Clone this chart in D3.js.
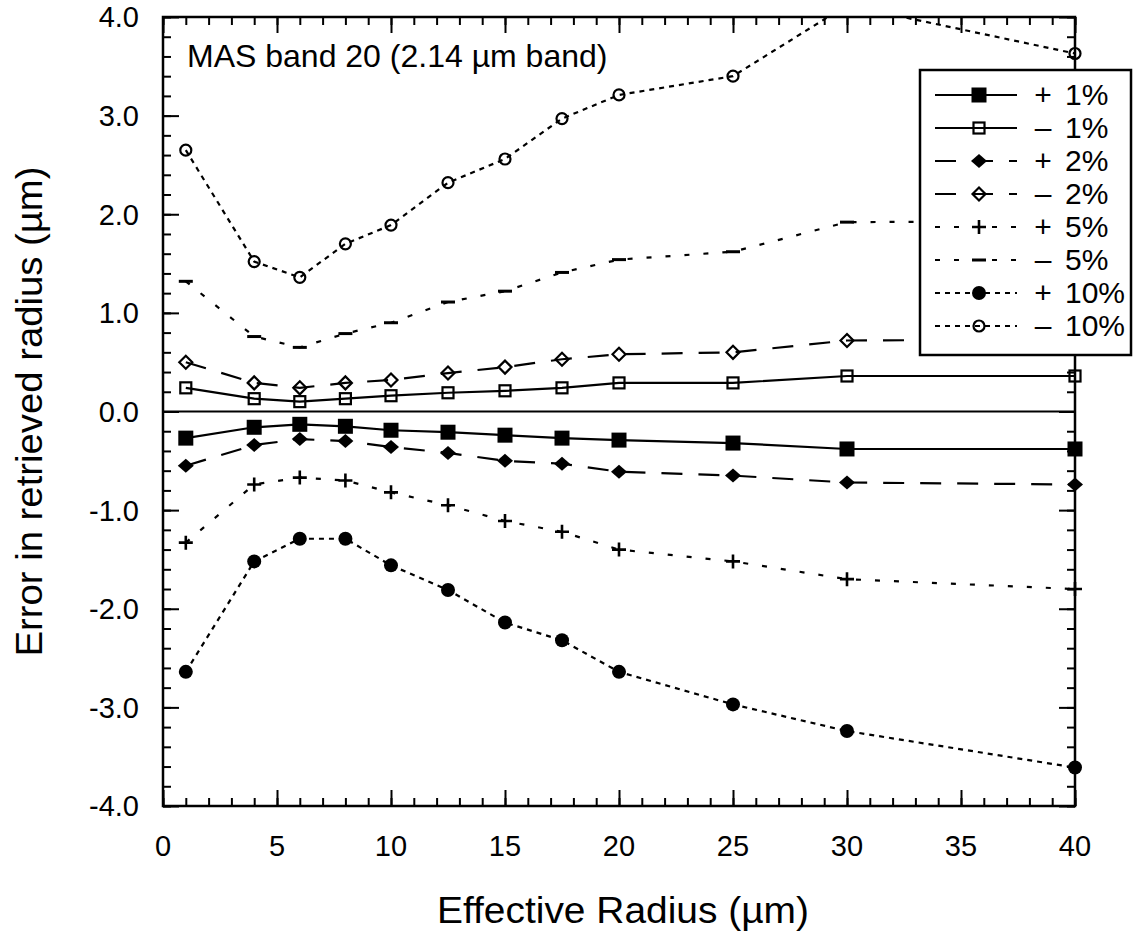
<!DOCTYPE html>
<html>
<head>
<meta charset="utf-8">
<script src="https://cdn.jsdelivr.net/npm/d3@7"></script>
<style>
  html, body { margin: 0; padding: 0; background: #fff; }
  svg { display: block; }
  text { font-family: "Liberation Sans", Arial, Helvetica, sans-serif; fill: #000; }
</style>
</head>
<body>
<svg id="chart" width="1133" height="936"></svg>
<script>
// ---------- data ----------
const radius = [1, 4, 6, 8, 10, 12.5, 15, 17.5, 20, 25, 30, 40];
const plus1  = [-0.27, -0.16, -0.13, -0.15, -0.19, -0.21, -0.24, -0.27, -0.29, -0.32, -0.38, -0.38];
const minus1 = [0.24, 0.13, 0.10, 0.13, 0.16, 0.19, 0.21, 0.24, 0.29, 0.29, 0.36, 0.36];
const plus2  = [-0.55, -0.34, -0.28, -0.30, -0.36, -0.42, -0.50, -0.53, -0.61, -0.65, -0.72, -0.74];
const minus2 = [0.50, 0.29, 0.24, 0.29, 0.32, 0.39, 0.45, 0.53, 0.58, 0.60, 0.72, 0.73];
const plus5  = [-1.33, -0.74, -0.67, -0.70, -0.82, -0.95, -1.11, -1.22, -1.40, -1.52, -1.70, -1.80];
const minus5 = [1.32, 0.76, 0.65, 0.79, 0.90, 1.11, 1.22, 1.41, 1.54, 1.62, 1.92, 1.93];
const plus10 = [-2.64, -1.52, -1.29, -1.29, -1.56, -1.81, -2.14, -2.32, -2.64, -2.97, -3.24, -3.61];
const minus10= [2.65, 1.52, 1.36, 1.70, 1.89, 2.32, 2.56, 2.97, 3.21, 3.40, 4.12, 3.63];

const seriesSigns  = ["+", "–", "+", "–", "+", "–", "+", "–"];
const seriesLabels = ["1%", "1%", "2%", "2%", "5%", "5%", "10%", "10%"];
const xTickValues = [0, 5, 10, 15, 20, 25, 30, 35, 40];
const yTickValues = [-4, -3, -2, -1, 0, 1, 2, 3, 4];
const yTickLabels = ["-4.0", "-3.0", "-2.0", "-1.0", "0.0", "1.0", "2.0", "3.0", "4.0"];
const xTitle = "Effective Radius (µm)";
const yTitle = "Error in retrieved radius (µm)";
const annotation = "MAS band 20 (2.14 µm band)";

// ---------- styles ----------
const styles = [
  {values: plus1,  dash: null,    marker: "squareFilled"},
  {values: minus1, dash: null,    marker: "squareOpen"},
  {values: plus2,  dash: "21,16", marker: "diamondFilled"},
  {values: minus2, dash: "21,16", marker: "diamondOpen"},
  {values: plus5,  dash: "5,14",  marker: "plus"},
  {values: minus5, dash: "5,14",  marker: "minus"},
  {values: plus10, dash: "5,5",   marker: "circleFilled"},
  {values: minus10,dash: "5,5",   marker: "circleOpen"}
];

const svg = d3.select("#chart");
svg.append("rect").attr("width", 1133).attr("height", 936).attr("fill", "#fff");

const L = 163, R = 1075, T = 17, B = 806;
const x = d3.scaleLinear().domain([0, 40]).range([L, R]);
const y = d3.scaleLinear().domain([-4, 4]).range([B, T]);

svg.append("clipPath").attr("id", "plotclip")
  .append("rect").attr("x", L).attr("y", T).attr("width", R - L).attr("height", B - T);

// ---------- axes (ticks inward on all sides) ----------
const xMinor = d3.range(0, 41, 1);
const yMinor = d3.range(-4, 4.001, 0.2).map(v => +v.toFixed(1));
const MAJ = 16, MIN = 8;

function axisGroup(axis, tf) {
  const g = svg.append("g").attr("transform", tf).call(axis);
  g.select(".domain").remove();
  g.selectAll(".tick line").attr("stroke", "#000").attr("stroke-width", 2);
  g.selectAll(".tick text").remove();
  return g;
}
// bottom
axisGroup(d3.axisTop(x).tickValues(xMinor).tickSize(MIN), `translate(0,${B})`);
axisGroup(d3.axisTop(x).tickValues(xTickValues).tickSize(MAJ), `translate(0,${B})`);
// top
axisGroup(d3.axisBottom(x).tickValues(xMinor).tickSize(MIN), `translate(0,${T})`);
axisGroup(d3.axisBottom(x).tickValues(xTickValues).tickSize(MAJ), `translate(0,${T})`);
// left
axisGroup(d3.axisRight(y).tickValues(yMinor).tickSize(MIN), `translate(${L},0)`);
axisGroup(d3.axisRight(y).tickValues(yTickValues).tickSize(MAJ), `translate(${L},0)`);
// right
axisGroup(d3.axisLeft(y).tickValues(yMinor).tickSize(MIN), `translate(${R},0)`);
axisGroup(d3.axisLeft(y).tickValues(yTickValues).tickSize(MAJ), `translate(${R},0)`);

// tick labels
svg.append("g").selectAll("text").data(xTickValues).join("text")
  .attr("x", d => x(d)).attr("y", 856)
  .attr("text-anchor", "middle").attr("font-size", 29)
  .text(d => d3.format("d")(d));
svg.append("g").selectAll("text").data(yTickValues).join("text")
  .attr("x", 139).attr("y", d => y(d)).attr("dy", "0.36em")
  .attr("text-anchor", "end").attr("font-size", 29)
  .text((d, i) => yTickLabels[i]);

// axis titles
svg.append("text").attr("x", 623).attr("y", 923)
  .attr("text-anchor", "middle").attr("font-size", 36)
  .attr("textLength", 372).attr("lengthAdjust", "spacingAndGlyphs").text(xTitle);
svg.append("text").attr("transform", `translate(42,${(T + B) / 2}) rotate(-90)`)
  .attr("text-anchor", "middle").attr("font-size", 36)
  .attr("textLength", 490).attr("lengthAdjust", "spacingAndGlyphs").text(yTitle);

// annotation
svg.append("text").attr("x", 187).attr("y", 67).attr("font-size", 32).text(annotation);

// ---------- markers ----------
function drawMarker(g, type) {
  switch (type) {
    case "squareFilled":
      g.append("rect").attr("x", -7.5).attr("y", -7.5).attr("width", 15).attr("height", 15).attr("fill", "#000"); break;
    case "squareOpen":
      g.append("rect").attr("x", -5.5).attr("y", -5.5).attr("width", 11).attr("height", 11)
        .attr("fill", "none").attr("stroke", "#000").attr("stroke-width", 2.2); break;
    case "diamondFilled":
      g.append("path").attr("d", "M-8,0L0,-7L8,0L0,7Z").attr("fill", "#000"); break;
    case "diamondOpen":
      g.append("path").attr("d", "M-6.5,0L0,-6.5L6.5,0L0,6.5Z")
        .attr("fill", "none").attr("stroke", "#000").attr("stroke-width", 2.2); break;
    case "plus":
      g.append("path").attr("d", "M-7,0H7M0,-7V7").attr("stroke", "#000").attr("stroke-width", 2.6); break;
    case "minus":
      g.append("path").attr("d", "M-7,0H7").attr("stroke", "#000").attr("stroke-width", 3); break;
    case "circleFilled":
      g.append("circle").attr("r", 7).attr("fill", "#000"); break;
    case "circleOpen":
      g.append("circle").attr("r", 5.5).attr("fill", "none").attr("stroke", "#000").attr("stroke-width", 2.2); break;
  }
}

// ---------- lines ----------
const line = d3.line().x(d => x(d[0])).y(d => y(d[1]));
const plot = svg.append("g").attr("clip-path", "url(#plotclip)");

// zero line
plot.append("line").attr("x1", x(0)).attr("x2", x(40)).attr("y1", y(0)).attr("y2", y(0))
  .attr("stroke", "#000").attr("stroke-width", 2);

styles.forEach(s => {
  const pts = radius.map((r, i) => [r, s.values[i]]);
  plot.append("path").datum(pts).attr("d", line)
    .attr("fill", "none").attr("stroke", "#000").attr("stroke-width", 2.2)
    .attr("stroke-dasharray", s.dash);
});
styles.forEach(s => {
  const pts = radius.map((r, i) => [r, s.values[i]]).filter(p => p[1] <= 4 && p[1] >= -4);
  const mg = svg.append("g");
  pts.forEach(p => {
    const g = mg.append("g").attr("transform", `translate(${x(p[0])},${y(p[1])})`);
    drawMarker(g, s.marker);
  });
});

// frame
svg.append("rect").attr("x", L).attr("y", T).attr("width", R - L).attr("height", B - T)
  .attr("fill", "none").attr("stroke", "#000").attr("stroke-width", 2.5);

// ---------- legend ----------
const lg = svg.append("g");
lg.append("rect").attr("x", 920).attr("y", 70).attr("width", 211).attr("height", 285)
  .attr("fill", "#fff").attr("stroke", "#000").attr("stroke-width", 2.5);
const rowY = i => 95 + i * 33;
styles.forEach((s, i) => {
  const yy = rowY(i);
  lg.append("line").attr("x1", 935).attr("x2", 1017).attr("y1", yy).attr("y2", yy)
    .attr("stroke", "#000").attr("stroke-width", 2).attr("stroke-dasharray", s.dash);
  drawMarker(lg.append("g").attr("transform", `translate(979,${yy})`), s.marker);
  lg.append("text").attr("x", 1043).attr("y", yy + 10).attr("text-anchor", "middle")
    .attr("font-size", 30).text(seriesSigns[i]);
  lg.append("text").attr("x", 1065).attr("y", yy + 10).attr("font-size", 30).text(seriesLabels[i]);
});
</script>
</body>
</html>
